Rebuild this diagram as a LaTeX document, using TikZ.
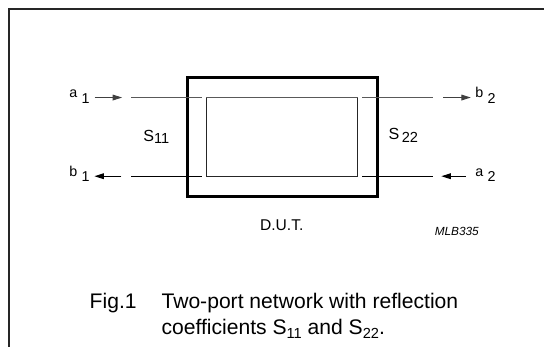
\documentclass[tikz,border=0pt]{standalone}
\usepackage{fontspec}
\setmainfont{Liberation Sans}
\usetikzlibrary{arrows.meta}
\newcommand{\lsub}[2]{\raisebox{-#1}{#2}}
\newcommand{\capsub}[1]{\raisebox{-3.6pt}{\fontsize{14.6}{14.6}\selectfont #1}}
\begin{document}
\begin{tikzpicture}[x=1pt,y=-1pt,
  lbl/.style={inner sep=0pt,anchor=base west,font=\fontsize{14.3}{14.3}\selectfont},
  slbl/.style={inner sep=0pt,anchor=base west,font=\fontsize{16.1}{16.1}\selectfont},
  caplbl/.style={inner sep=0pt,anchor=base west,font=\fontsize{21.1}{26}\selectfont},
  topline/.style={line width=1pt,black!65},
  botline/.style={line width=1pt,black},
  arr/.style={-{Triangle[length=9.4pt,width=5.7pt]},line width=1pt}
]
\useasboundingbox (0,0) rectangle (544,347);
% frame
\coordinate (fbl) at (8.64,347);
\coordinate (ftl) at (8.64,8.64);
\coordinate (ftr) at (544,8.64);
\draw[line width=2pt,black!85] (fbl) -- (ftl) -- (ftr);
% boxes
\node (dut) [draw,line width=2.8pt,minimum width=189.76pt,minimum height=118.98pt,inner sep=0pt] at (282.25,137.25) {};
\node (inner) [draw,line width=1pt,black!85,minimum width=150.52pt,minimum height=78.7pt,inner sep=0pt] at (282.1,136.88) {};
\draw[topline] (inner.north west) -- (inner.north east);
% top line segments
\coordinate (t1) at (131.16,97.54);
\coordinate (t2) at (202.26,97.54);
\coordinate (t3) at (362.25,97.54);
\coordinate (t4) at (433.03,97.54);
\draw[topline] (t1) -- (t2);
\draw[topline] (t3) -- (t4);
% bottom line segments
\coordinate (u1) at (131.16,176.23);
\coordinate (u2) at (202.26,176.23);
\coordinate (u3) at (362.25,176.23);
\coordinate (u4) at (433.03,176.23);
\draw[botline] (u1) -- (u2);
\draw[botline] (u3) -- (u4);
% arrows
\coordinate (a1s) at (94.73,97.54);
\coordinate (a1e) at (122.1,97.54);
\coordinate (b2s) at (443.44,97.54);
\coordinate (b2e) at (470.82,97.54);
\coordinate (b1s) at (121.48,176.23);
\coordinate (b1e) at (94.41,176.23);
\coordinate (a2s) at (465.61,176.23);
\coordinate (a2e) at (441.36,176.23);
\draw[arr,black!75] (a1s) -- (a1e);
\draw[arr,black!75] (b2s) -- (b2e);
\draw[arr] (b1s) -- (b1e);
\draw[arr] (a2s) -- (a2e);
% port labels
\node (la1) [lbl] at (69.2,97.85) {a\hspace{4.2pt}\lsub{5.7pt}{1}};
\node (lb1) [lbl] at (69.2,176.23) {b\hspace{4.2pt}\lsub{5.7pt}{1}};
\node (lb2) [lbl] at (475.2,97.85) {b\hspace{4.2pt}\lsub{5.7pt}{2}};
\node (la2) [lbl] at (475.2,176.23) {a\hspace{4.2pt}\lsub{5.7pt}{2}};
% S labels
\node (s11) [slbl] at (143.1,141.3) {S\lsub{2.5pt}{\fontsize{14.6}{14.6}\selectfont 11}};
\node (s22) [slbl] at (388.5,140) {S\lsub{3pt}{\fontsize{14.6}{14.6}\selectfont\,22}};
% DUT label and code
\node (dutl) [inner sep=0pt,anchor=base,font=\fontsize{15.6}{15.6}\selectfont] at (281.8,230.8) {D.U.T.};
\node (code) [inner sep=0pt,anchor=base west,font=\fontsize{11.8}{11.8}\selectfont\itshape] at (434.6,235.3) {MLB335};
% caption
\node (fig) [caplbl] at (89.5,308.1) {Fig.1};
\node (cap1) [caplbl] at (161.35,308.1) {Two-port network with reflection};
\node (cap2) [caplbl] at (161.35,334.9) {coefficients S\capsub{11} and S\capsub{22}.};
\end{tikzpicture}
\end{document}
